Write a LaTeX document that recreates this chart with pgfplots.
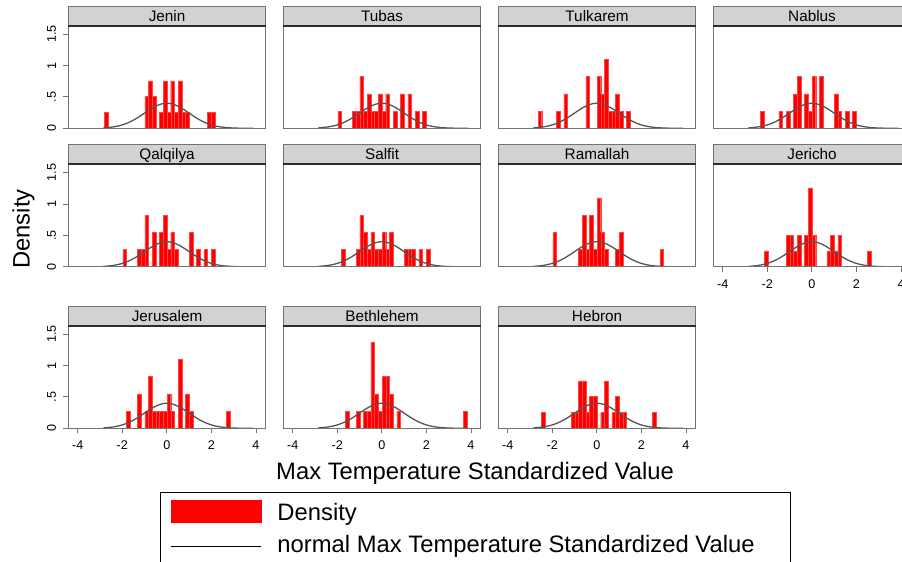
\documentclass[border=0pt]{standalone}
\usepackage{fontspec}
\setmainfont{Liberation Sans}
\usepackage{pgfplots}
\pgfplotsset{compat=1.18}
\usepackage{pgfplotstable}

\definecolor{hdrfill}{RGB}{210,210,210}
\definecolor{boxgray}{RGB}{115,115,115}
\definecolor{hdrline}{RGB}{45,45,45}
\definecolor{curvegray}{RGB}{85,85,85}
\definecolor{barred}{RGB}{255,0,0}
\definecolor{baredge}{RGB}{255,70,70}

\pgfplotstableread{
x y
-2.84 0.0071
-2.6 0.0136
-2.4 0.0224
-2.2 0.0355
-2.0 0.0540
-1.8 0.0790
-1.6 0.1109
-1.4 0.1497
-1.2 0.1942
-1.0 0.2420
-0.8 0.2897
-0.6 0.3332
-0.4 0.3683
-0.2 0.3910
0.0 0.3989
0.2 0.3910
0.4 0.3683
0.6 0.3332
0.8 0.2897
1.0 0.2420
1.2 0.1942
1.4 0.1497
1.6 0.1109
1.8 0.0790
2.0 0.0540
2.2 0.0355
2.4 0.0224
2.6 0.0136
2.8 0.0079
3.0 0.0044
3.2 0.0024
3.4 0.0012
3.6 0.0006
3.88 0.0002
}\normtab

\pgfplotsset{
 panel/.style={
  scale only axis, width=197.5pt, height=102.6pt,
  xmin=-4.42, xmax=4.44, ymin=0, ymax=1.634,
  axis on top,
  axis line style={draw=boxgray, line width=1.1pt},
  xtick=\empty, ytick=\empty,
  tick align=outside, major tick length=5pt,
  tick style={draw=boxgray, line width=0.9pt},
  xtick pos=bottom, ytick pos=left,
  tick label style={font=\fontsize{12.6}{14}\selectfont},
  /pgf/number format/assume math mode=true,
  every axis title/.style={at={(0.5,1)}, anchor=south, fill=hdrfill, draw=boxgray,
    line width=1pt, minimum width=197.5pt, minimum height=19pt, inner sep=0pt,
    text height=11pt, text depth=0pt, font=\fontsize{15.3}{17}\selectfont},
  extra description/.code={\draw[hdrline, line width=1.6pt] (0,1) -- (1,1);},
 },
 showx/.style={xtick={-4,-2,0,2,4}, xticklabels={-4,-2,0,2,4},
   xticklabel style={anchor=north, inner sep=0pt, yshift=-7.5pt}},
 showy/.style={ytick={0,0.5,1,1.5}, yticklabels={0,.5,1,1.5},
   yticklabel style={xshift=-7pt, rotate=90, anchor=south, inner sep=0pt}},
 bars/.style={ybar, bar width=0.1655, bar shift=0pt, fill=barred, draw=baredge, line width=0.4pt},
 curve/.style={curvegray, line width=1.3pt, smooth, no markers},
}

\begin{document}
\begin{tikzpicture}
% Row 1
\begin{axis}[panel, showy, title={Jenin}, at={(68.3pt,-128.3pt)}, anchor=south west]
\addplot[bars] coordinates {(-2.722,0.2517) (-0.901,0.5034) (-0.736,0.7551) (-0.570,0.5034) (-0.239,0.2517) (-0.074,0.7551) (0.092,0.2517) (0.258,0.7551) (0.423,0.2517) (0.589,0.7551) (0.754,0.2517) (0.920,0.2517) (1.913,0.2517) (2.078,0.2517)};
\addplot[curve] table {\normtab};
\end{axis}
\begin{axis}[panel, title={Tubas}, at={(283.3pt,-128.3pt)}, anchor=south west]
\addplot[bars] coordinates {(-1.894,0.2746) (-1.232,0.2746) (-1.067,0.2746) (-0.901,0.8238) (-0.736,0.2746) (-0.570,0.5492) (-0.405,0.2746) (-0.239,0.2746) (-0.074,0.5492) (0.092,0.2746) (0.258,0.5492) (0.589,0.2746) (0.920,0.5492) (1.251,0.5492) (1.582,0.2746) (1.913,0.2746)};
\addplot[curve] table {\normtab};
\end{axis}
\begin{axis}[panel, title={Tulkarem}, at={(498.3pt,-128.3pt)}, anchor=south west]
\addplot[bars] coordinates {(-2.556,0.2746) (-1.729,0.2746) (-1.398,0.5492) (-0.405,0.8238) (0.092,0.8238) (0.258,0.5492) (0.423,1.0984) (0.589,0.2746) (0.754,0.2746) (0.920,0.5492) (1.085,0.2746) (1.416,0.2746)};
\addplot[curve] table {\normtab};
\end{axis}
\begin{axis}[panel, title={Nablus}, at={(713.3pt,-128.3pt)}, anchor=south west]
\addplot[bars] coordinates {(-2.225,0.2746) (-1.398,0.2746) (-1.067,0.2746) (-0.736,0.5492) (-0.570,0.8238) (-0.239,0.5492) (-0.074,0.2746) (0.092,0.8238) (0.423,0.8238) (1.085,0.5492) (1.251,0.2746) (1.582,0.2746) (1.913,0.2746)};
\addplot[curve] table {\normtab};
\end{axis}
% Row 2
\begin{axis}[panel, showy, title={Qalqilya}, at={(68.3pt,-266.8pt)}, anchor=south west]
\addplot[bars] coordinates {(-1.894,0.2746) (-1.232,0.2746) (-1.067,0.2746) (-0.901,0.8238) (-0.570,0.5492) (-0.239,0.5492) (-0.074,0.8238) (0.092,0.2746) (0.258,0.5492) (0.423,0.2746) (1.085,0.5492) (1.416,0.2746) (1.747,0.2746) (2.078,0.2746)};
\addplot[curve] table {\normtab};
\end{axis}
\begin{axis}[panel, title={Salfit}, at={(283.3pt,-266.8pt)}, anchor=south west]
\addplot[bars] coordinates {(-1.729,0.2746) (-1.067,0.2746) (-0.901,0.8238) (-0.736,0.5492) (-0.570,0.2746) (-0.405,0.5492) (-0.239,0.2746) (-0.074,0.2746) (0.092,0.5492) (0.258,0.2746) (0.423,0.5492) (1.085,0.2746) (1.251,0.2746) (1.416,0.2746) (1.747,0.2746) (2.078,0.2746)};
\addplot[curve] table {\normtab};
\end{axis}
\begin{axis}[panel, title={Ramallah}, at={(498.3pt,-266.8pt)}, anchor=south west]
\addplot[bars] coordinates {(-1.894,0.5492) (-0.736,0.2746) (-0.570,0.8238) (-0.405,0.2746) (-0.239,0.8238) (-0.074,0.2746) (0.092,1.0984) (0.258,0.5492) (0.423,0.2746) (0.920,0.2746) (1.085,0.5492) (2.906,0.2746)};
\addplot[curve] table {\normtab};
\end{axis}
\begin{axis}[panel, showx, title={Jericho}, at={(713.3pt,-266.8pt)}, anchor=south west]
\addplot[bars] coordinates {(-2.060,0.2517) (-1.067,0.5034) (-0.901,0.5034) (-0.736,0.2517) (-0.570,0.5034) (-0.239,0.5034) (-0.074,1.2585) (0.092,0.5034) (0.754,0.2517) (0.920,0.5034) (1.085,0.2517) (1.251,0.5034) (2.575,0.2517)};
\addplot[curve] table {\normtab};
\end{axis}
% Row 3
\begin{axis}[panel, showx, showy, title={Jerusalem}, at={(68.3pt,-428.3pt)}, anchor=south west]
\addplot[bars] coordinates {(-1.729,0.2746) (-1.232,0.5492) (-0.901,0.2746) (-0.736,0.8238) (-0.570,0.2746) (-0.405,0.2746) (-0.239,0.2746) (-0.074,0.2746) (0.092,0.5492) (0.258,0.2746) (0.589,1.0984) (0.920,0.5492) (1.085,0.2746) (2.740,0.2746)};
\addplot[curve] table {\normtab};
\end{axis}
\begin{axis}[panel, showx, title={Bethlehem}, at={(283.3pt,-428.3pt)}, anchor=south west]
\addplot[bars] coordinates {(-1.563,0.2746) (-1.067,0.2746) (-0.736,0.2746) (-0.570,0.2746) (-0.405,1.373) (-0.239,0.5492) (-0.074,0.2746) (0.092,0.8238) (0.258,0.8238) (0.423,0.5492) (0.754,0.2746) (3.733,0.2746)};
\addplot[curve] table {\normtab};
\end{axis}
\begin{axis}[panel, showx, title={Hebron}, at={(498.3pt,-428.3pt)}, anchor=south west,
  legend cell align=left,
  legend style={at={(-1.7129,-0.6179)}, anchor=north west, draw=black, line width=1pt,
    font=\fontsize{23.8}{28}\selectfont, inner xsep=10pt, inner ysep=8pt,
    column sep=16pt, row sep=10pt,
    nodes={inner sep=0pt, text height=17pt, text depth=5pt}}]
\addplot[bars, legend image code/.code={\fill[barred] (0pt,-8pt) rectangle (90pt,14pt);}]
 coordinates {(-2.391,0.2517) (-1.067,0.2517) (-0.901,0.2517) (-0.736,0.7551) (-0.570,0.7551) (-0.405,0.2517) (-0.239,0.5034) (-0.074,0.5034) (0.258,0.2517) (0.423,0.7551) (0.754,0.2517) (0.920,0.5034) (1.085,0.2517) (1.251,0.2517) (2.575,0.2517)};
\addlegendentry{Density}
\addplot[curve, legend image code/.code={\draw[black, line width=1pt] (0pt,0pt) -- (90pt,0pt);}] table {\normtab};
\addlegendentry{normal Max Temperature Standardized Value\hspace*{26pt}}
\end{axis}
% axis titles
\node[rotate=90, anchor=base, font=\fontsize{23.8}{28}\selectfont, inner sep=0pt] at (29.7pt,-229pt) {Density};
\node[anchor=base west, font=\fontsize{23.8}{28}\selectfont, inner sep=0pt] at (276pt,-479pt) {Max Temperature Standardized Value};
\pgfresetboundingbox
\useasboundingbox (0pt,0pt) rectangle (902pt,-562pt);
\end{tikzpicture}
\end{document}
